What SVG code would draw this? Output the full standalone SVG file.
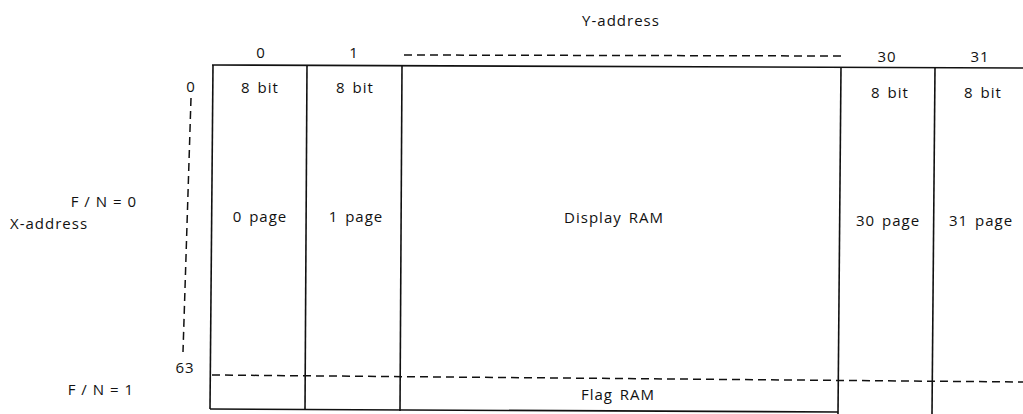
<svg xmlns="http://www.w3.org/2000/svg" width="1023" height="414" viewBox="0 0 1023 414">
<style>
text{font-family:"Open Sans","Liberation Sans",sans-serif;font-size:15px;letter-spacing:1px;word-spacing:2px;fill:#111}
.c{text-anchor:middle}
.e{text-anchor:end;word-spacing:0}
.s{stroke:#111;stroke-width:1.6;fill:none}
.d{stroke:#111;stroke-width:1.5;fill:none;stroke-dasharray:8 5}
</style>
<rect width="1023" height="414" fill="#fff"/>
<g id="connectors">
<line class="s" x1="212" y1="65" x2="1023" y2="68"/>
<line class="s" x1="213" y1="65" x2="210" y2="409"/>
<line class="s" x1="307" y1="65" x2="305" y2="410"/>
<line class="s" x1="402" y1="66" x2="400" y2="411"/>
<line class="s" x1="841" y1="67" x2="838" y2="414"/>
<line class="s" x1="935" y1="68" x2="932" y2="414"/>
<line class="s" x1="210" y1="409" x2="838" y2="412"/>
<line class="d" x1="212" y1="375" x2="1023" y2="382"/>
<line class="d" x1="404" y1="55" x2="842" y2="56"/>
<line class="d" x1="191" y1="98" x2="183" y2="352"/>
</g>
<g id="y-address"><text class="c" x="621" y="26">Y-address</text></g>
<g id="col0"><text class="c" x="261" y="58">0</text><text class="c" x="260" y="93">8 bit</text><text class="c" x="260" y="222">0 page</text></g>
<g id="col1"><text class="c" x="354" y="58">1</text><text class="c" x="355" y="93">8 bit</text><text class="c" x="356" y="222">1 page</text></g>
<g id="display-ram"><text class="c" x="614" y="223">Display RAM</text></g>
<g id="col30"><text class="c" x="887" y="62">30</text><text class="c" x="890" y="98">8 bit</text><text class="c" x="888" y="226">30 page</text></g>
<g id="col31"><text class="c" x="980" y="62">31</text><text class="c" x="983" y="98">8 bit</text><text class="c" x="981" y="226">31 page</text></g>
<g id="flag-ram"><text class="c" x="618" y="400">Flag RAM</text></g>
<g id="x-axis">
<text class="c" x="191" y="92">0</text>
<text class="c" x="185" y="373">63</text>
<text x="10" y="229">X-address</text>
<text class="e" x="137" y="207">F / N = 0</text>
<text class="e" x="134" y="395">F / N = 1</text>
</g>
</svg>
